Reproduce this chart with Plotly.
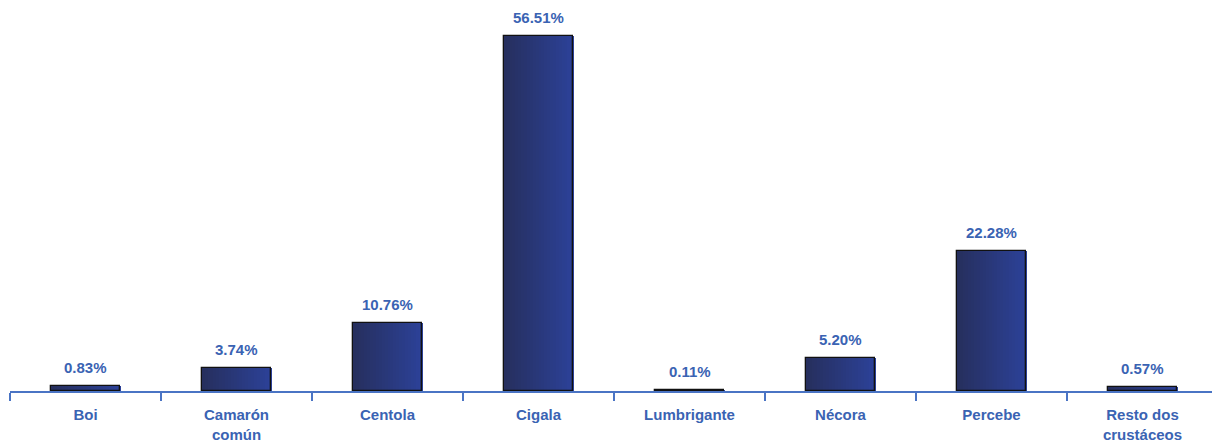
import plotly.graph_objects as go

categories = ["Boi", "Camarón<br>común", "Centola", "Cigala", "Lumbrigante",
              "Nécora", "Percebe", "Resto dos<br>crustáceos"]
values = [0.83, 3.74, 10.76, 56.51, 0.11, 5.20, 22.28, 0.57]
labels = ["0.83%", "3.74%", "10.76%", "56.51%", "0.11%", "5.20%", "22.28%", "0.57%"]

BAR_W = 0.46
N = 24
c0 = (0x26, 0x2F, 0x5E)
c1 = (0x2C, 0x41, 0x97)
LABEL_COLOR = "#3A63B3"
AXIS_COLOR = "#4A74C4"
FONT = "Liberation Sans, Arial, sans-serif"

fig = go.Figure()
for i in range(N):
    t = i / (N - 1)
    col = "rgb({},{},{})".format(*[round(a + (b - a) * t) for a, b in zip(c0, c1)])
    fig.add_trace(go.Bar(
        x=categories, y=values, width=BAR_W / N + 0.002,
        offset=-BAR_W / 2 + i * BAR_W / N,
        marker=dict(color=col, line=dict(width=0)),
        hoverinfo="skip", showlegend=False,
    ))

fig.add_trace(go.Bar(
    x=categories, y=values, width=BAR_W,
    marker=dict(color="rgba(0,0,0,0)", line=dict(color="#111111", width=1.3)),
    showlegend=False,
))

for c, v, s in zip(categories, values, labels):
    fig.add_annotation(
        x=c, y=v, text=f"<b>{s}</b>", showarrow=False, yanchor="bottom",
        yshift=8, font=dict(color=LABEL_COLOR, size=15, family=FONT),
    )

fig.update_layout(
    width=1212, height=434,
    margin=dict(l=2, r=2, t=0, b=51, autoexpand=False),
    paper_bgcolor="white", plot_bgcolor="white",
    barmode="overlay", bargap=0,
    font=dict(family=FONT),
)
fig.update_xaxes(
    type="category", tickson="boundaries", ticks="outside", ticklen=8,
    tickwidth=2, tickcolor=AXIS_COLOR, showline=True, linecolor=AXIS_COLOR,
    linewidth=2, showgrid=False, automargin=False,
    tickmode="array", tickvals=categories, ticklabelstandoff=9,
    ticktext=[f"<b>{c}</b>" for c in categories],
    tickfont=dict(color=LABEL_COLOR, size=15, family=FONT),
)
fig.update_yaxes(visible=False, range=[0, 60.97], showgrid=False,
                 zeroline=False, automargin=False)

fig.write_html("out.html")
